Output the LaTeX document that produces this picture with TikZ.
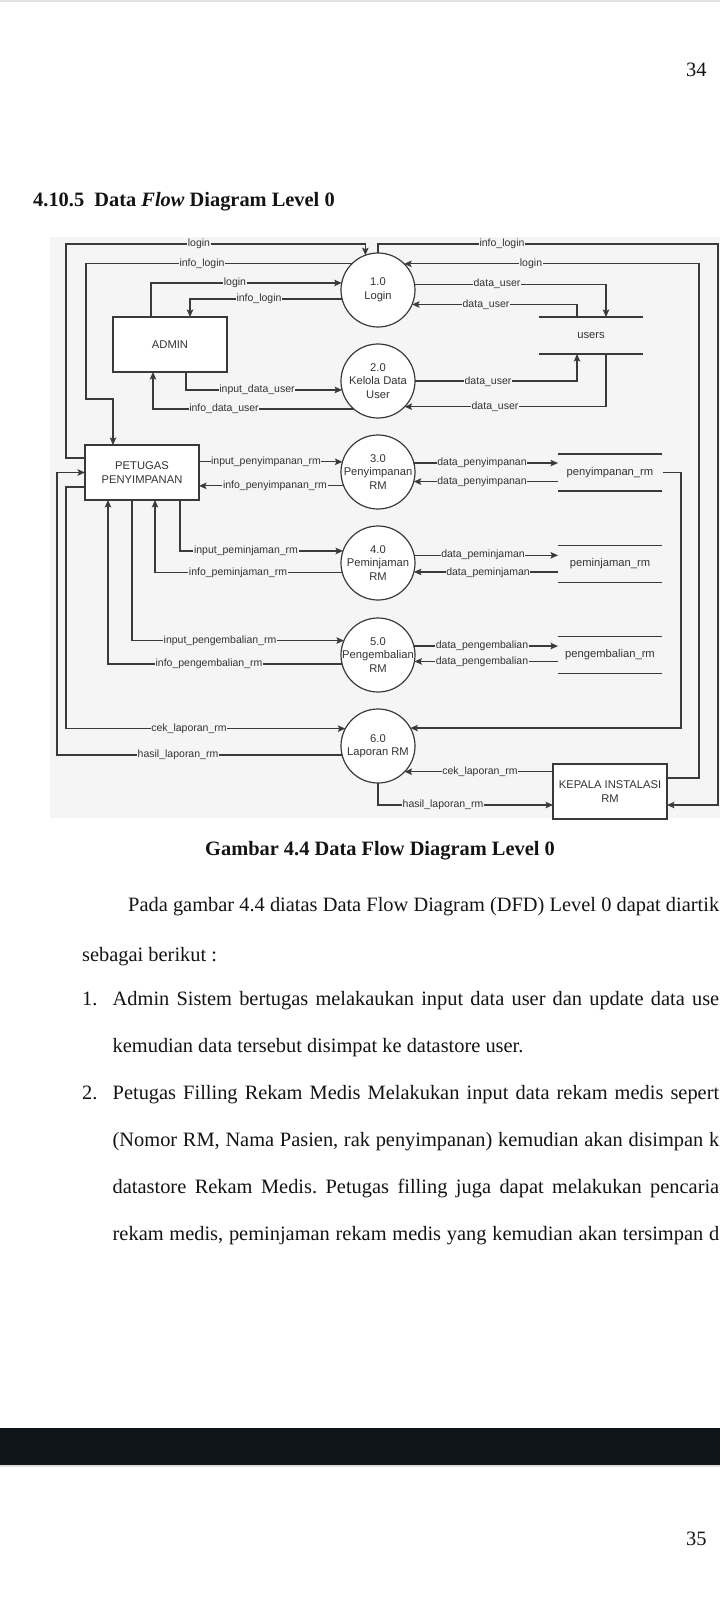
\documentclass[tikz,border=0pt]{standalone}
\usepackage{fontspec}
\setmainfont{Liberation Serif}
\newfontfamily\dsans{Liberation Sans}
\usetikzlibrary{arrows.meta}
\definecolor{linec}{HTML}{3A3A3A}
\definecolor{txtc}{HTML}{333333}
\definecolor{bgc}{HTML}{F5F5F5}
\definecolor{pagec}{HTML}{141414}
\definecolor{barc}{HTML}{10151B}
\newcommand{\nodefnt}{\dsans\fontsize{11.2}{13.5}\selectfont}
\newcommand{\lblfnt}{\dsans\fontsize{10.5}{12}\selectfont}
\newcommand{\bodyfnt}{\fontsize{20.4}{24}\selectfont\frenchspacing\spaceskip=0.25em plus 0.8em minus 0.1em\relax}
\begin{document}
\begin{tikzpicture}[x=1pt,y=-1pt,
  line/.style={draw=linec, line width=1.2pt},
  flow/.style={line, -{Stealth[length=7.5pt,width=6.5pt,inset=1.5pt]}},
  proc/.style={circle, draw=linec, line width=1.2pt, fill=white, minimum size=74pt, inner sep=0pt, outer sep=0pt},
  ptext/.style={align=center, font=\nodefnt, text=txtc, inner sep=0pt},
  ent/.style={rectangle, draw=linec, line width=1.2pt, fill=white, minimum width=114pt, minimum height=55pt, align=center, inner sep=0pt, outer sep=0pt, font=\nodefnt, text=txtc},
  store/.style={minimum width=104pt, minimum height=37pt, inner sep=0pt, outer sep=0pt, font=\nodefnt, text=txtc},
  lbl/.style={fill=bgc, inner sep=0.6pt, font=\lblfnt, text=txtc},
  body/.style={inner sep=0pt, anchor=base west, font=\bodyfnt, text=pagec},
]
\useasboundingbox (0,0) rectangle (720,1600);
\fill[white] (0,0) rectangle (720,1600);
\fill[gray!22] (0,0) rectangle (720,2.5);
% page texts
\node[body] (pg34) at (686,77) {34};
\node[body] (title) at (33,206) {\bfseries 4.10.5\ \ Data \textit{Flow} Diagram Level 0};
% diagram background
\fill[bgc] (50,237) rectangle (720,818);
% processes
\node[proc] (p1) at (378,290) {};
\node[ptext] (p1t) at (p1) {1.0\\Login};
\node[proc] (p2) at (378,381) {};
\node[ptext] (p2t) at (p2) {2.0\\Kelola Data\\User};
\node[proc] (p3) at (378,472) {};
\node[ptext] (p3t) at (p3) {3.0\\Penyimpanan\\RM};
\node[proc] (p4) at (378,563) {};
\node[ptext] (p4t) at (p4) {4.0\\Peminjaman\\RM};
\node[proc] (p5) at (378,655) {};
\node[ptext] (p5t) at (p5) {5.0\\Pengembalian\\RM};
\node[proc] (p6) at (378,746) {};
\node[ptext] (p6t) at (p6) {6.0\\Laporan RM};
% entities
\node[ent] (admin) at (170,344.5) {ADMIN};
\node[ent] (petugas) at (142,472.5) {PETUGAS\\PENYIMPANAN};
\node[ent] (kepala) at (610,791.5) {KEPALA INSTALASI\\RM};
% stores
\node[store] (users) at (591,335.5) {users};
\node[store] (s2) at (610,472.5) {penyimpanan\_rm};
\node[store] (s3) at (610,564) {peminjaman\_rm};
\node[store] (s4) at (610,655) {pengembalian\_rm};
\foreach \s in {users,s2,s3,s4}{
  \draw[line] (\s.north west) -- (\s.north east);
  \draw[line] (\s.south west) -- (\s.south east);
}
% bend coordinates
\coordinate (b1) at (66,244);
\coordinate (b2) at (86,399);
\coordinate (b3) at (718,244);
\coordinate (b4) at (699,0);
\coordinate (b5) at (681,0);
\coordinate (b6) at (66,0);
\coordinate (b7) at (57,0);
% flows
\draw[flow] ([yshift=14.5pt]petugas.west) -| (b1) -| (p1.110.6);
\draw[flow] (p1.135) -| (b2) -| ([xshift=-29pt]petugas.north);
\draw[flow] ([xshift=-19pt]admin.north) |- (p1.169.1);
\draw[flow] (p1.194.1) -| ([xshift=20pt]admin.north);
\draw[flow] ([xshift=16pt]admin.south) |- (p2.194.1);
\draw[flow] (p2.229.2) -| ([xshift=-17pt]admin.south);
\draw[flow] (p1.north) |- (b3) |- ([yshift=-13.5pt]kepala.east);
\draw[flow] ([yshift=13.5pt]kepala.east) -| (b4 |- p1.45) -- (p1.45);
\draw[flow] (p1.9.3) -| ([xshift=15pt]users.north);
\draw[flow] ([xshift=-14pt]users.north) |- (p1.-23.9);
\draw[flow] (p2.east) -| ([xshift=-14pt]users.south);
\draw[flow] ([xshift=15pt]users.south) |- (p2.-44.6);
\draw[flow] ([yshift=10.5pt]petugas.east) -- (p3.164.3 -| petugas.east) -- (p3.164.3);
\draw[flow] (p3.202.2) -- (p3.202.2 -| petugas.east);
\draw[flow] (p3.14.1) -- (p3.14.1 -| s2.west);
\draw[flow] (s2.west |- p3.-15.7) -- (p3.-15.7);
\draw[flow] ([xshift=1pt]s2.east) -| (b5 |- p6.29.1) -- (p6.29.1);
\draw[flow] ([xshift=38pt]petugas.south) |- (p4.161.1);
\draw[flow] (p4.195.7) -| ([xshift=13pt]petugas.south);
\draw[flow] (p4.12.5) -- (p4.12.5 -| s3.west);
\draw[flow] (s3.west |- p4.-14.1) -- (p4.-14.1);
\draw[flow] ([xshift=-10pt]petugas.south) |- (p5.157.8);
\draw[flow] (p5.194.1) -| ([xshift=-34pt]petugas.south);
\draw[flow] (p5.14.1) -- (p5.14.1 -| s4.west);
\draw[flow] (s4.west |- p5.-10.9) -- (p5.-10.9);
\draw[flow] ([yshift=-14.5pt]petugas.west) -| (b6 |- p6.152.6) -- (p6.152.6);
\draw[flow] (p6.194.1) -| (b7 |- petugas.west) -- (petugas.west);
\draw[flow] (kepala.west |- p6.-44.6) -- (p6.-44.6);
\draw[flow] (p6.south) |- ([yshift=-13.5pt]kepala.west);
% labels
\node[lbl] (l1) at (199,244) {login};
\node[lbl] (l2) at (202,264) {info\_login};
\node[lbl] (l3) at (235,283) {login};
\node[lbl] (l4) at (259,299) {info\_login};
\node[lbl] (l5) at (257,390) {input\_data\_user};
\node[lbl] (l6) at (224,409) {info\_data\_user};
\node[lbl] (l7) at (502,244) {info\_login};
\node[lbl] (l8) at (531,264) {login};
\node[lbl] (l9) at (497,284) {data\_user};
\node[lbl] (l10) at (486,305) {data\_user};
\node[lbl] (l11) at (488,382) {data\_user};
\node[lbl] (l12) at (495,407) {data\_user};
\node[lbl] (l13) at (266,462) {input\_penyimpanan\_rm};
\node[lbl] (l14) at (275,486) {info\_penyimpanan\_rm};
\node[lbl] (l15) at (482,463) {data\_penyimpanan};
\node[lbl] (l16) at (482,482) {data\_penyimpanan};
\node[lbl] (l17) at (246,551) {input\_peminjaman\_rm};
\node[lbl] (l18) at (238,573) {info\_peminjaman\_rm};
\node[lbl] (l19) at (483,555) {data\_peminjaman};
\node[lbl] (l20) at (488,573) {data\_peminjaman};
\node[lbl] (l21) at (220,641) {input\_pengembalian\_rm};
\node[lbl] (l22) at (209,664) {info\_pengembalian\_rm};
\node[lbl] (l23) at (482,646) {data\_pengembalian};
\node[lbl] (l24) at (482,662) {data\_pengembalian};
\node[lbl] (l25) at (189,729) {cek\_laporan\_rm};
\node[lbl] (l26) at (178,755) {hasil\_laporan\_rm};
\node[lbl] (l27) at (480,772) {cek\_laporan\_rm};
\node[lbl] (l28) at (443,805) {hasil\_laporan\_rm};
% caption and body
\node[body, anchor=base] (cap) at (380,855) {\bfseries Gambar 4.4 Data Flow Diagram Level 0};
\node[body] (t1) at (128,911) {\hbox to 591pt{Pada gambar 4.4 diatas Data Flow Diagram (DFD) Level 0 dapat diartik}};
\node[body] (t2) at (82,961) {sebagai berikut :};
\node[body] (n1) at (82,1005) {1.};
\node[body] (t3) at (112.5,1005) {\hbox to 606.5pt{Admin Sistem bertugas melakaukan input data user dan update data use}};
\node[body] (t4) at (112.5,1052) {kemudian data tersebut disimpat ke datastore user.};
\node[body] (n2) at (82,1099) {2.};
\node[body] (t5) at (112.5,1099) {\hbox to 606.5pt{Petugas Filling Rekam Medis Melakukan input data rekam medis sepert}};
\node[body] (t6) at (112.5,1146) {\hbox to 606.5pt{(Nomor RM, Nama Pasien, rak penyimpanan) kemudian akan disimpan k}};
\node[body] (t7) at (112.5,1193) {\hbox to 606.5pt{datastore Rekam Medis. Petugas filling juga dapat melakukan pencaria}};
\node[body] (t8) at (112.5,1240) {\hbox to 606.5pt{rekam medis, peminjaman rekam medis yang kemudian akan tersimpan d}};
% bottom bar
\fill[barc] (0,1428) rectangle (720,1465);
\fill[gray!25] (0,1465) rectangle (720,1467);
\node[body] (pg35) at (686,1545) {35};
\end{tikzpicture}
\end{document}
